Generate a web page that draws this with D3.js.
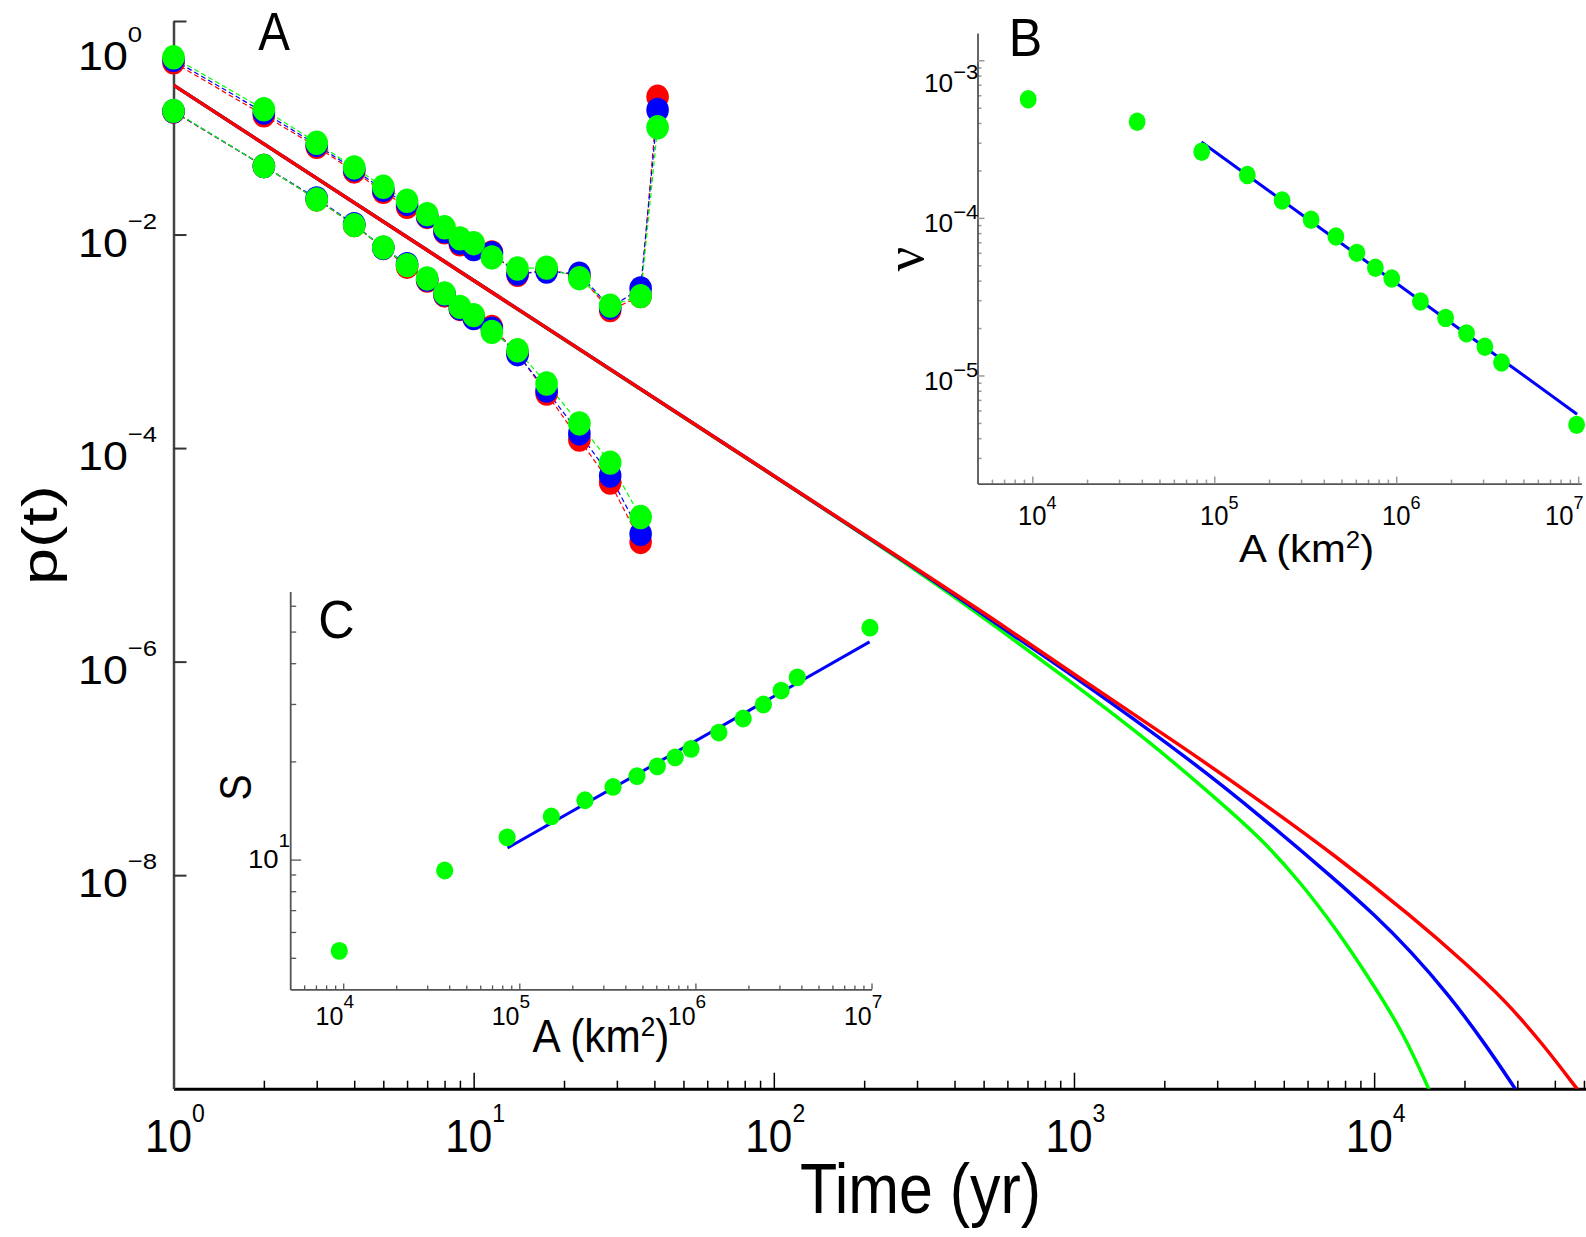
<!DOCTYPE html>
<html>
<head>
<meta charset="utf-8">
<script src="https://cdn.jsdelivr.net/npm/d3@7"></script>
<style>body { margin: 0; background: #fff; }</style>
</head>
<body>
<script>
// ---- panel A data: points (two groups, three runs each) ----
var tYears = [1, 2, 3, 4, 5, 6, 7, 8, 9, 10, 11.5, 14, 17.5, 22.5, 28.5, 36, 41];

var upperRed   = [0.410, 0.131, 0.0664, 0.039, 0.0251, 0.0182, 0.0146, 0.0105, 0.0081, 0.0077, 0.0068, 0.0042, 0.0047, 0.0041, 0.00196, 0.00265, 0.195];
var upperBlue  = [0.433, 0.139, 0.0693, 0.0407, 0.0262, 0.0194, 0.0149, 0.0107, 0.0084, 0.0073, 0.0067, 0.0043, 0.0045, 0.0043, 0.00207, 0.00313, 0.147];
var upperGreen = [0.457, 0.149, 0.0723, 0.0425, 0.028, 0.0207, 0.0155, 0.0117, 0.0092, 0.0083, 0.0061, 0.0048, 0.0049, 0.0039, 0.00216, 0.00265, 0.101];

var lowerRed   = [0.1413, 0.0438, 0.0213, 0.01225, 0.00749, 0.0050, 0.00371, 0.00269, 0.00201, 0.00172, 0.00136, 0.000773, 0.000324, 0.000120, 0.0000475, 0.0000132];
var lowerBlue  = [0.1428, 0.0438, 0.0218, 0.0125, 0.00749, 0.00528, 0.00379, 0.00275, 0.00203, 0.00165, 0.00131, 0.000757, 0.000346, 0.000137, 0.0000552, 0.0000157];
var lowerGreen = [0.144, 0.0438, 0.0213, 0.01225, 0.00757, 0.00517, 0.00388, 0.00281, 0.0021, 0.00176, 0.001225, 0.000824, 0.000402, 0.000170, 0.0000731, 0.0000226];

// ---- panel A data: model curves ----
var redCurveT   = [1, 10, 100, 300, 566, 1005, 2377, 4217, 7482, 13300, 20420, 27230, 36310, 47640];
var redCurveP   = [0.251, 3.72e-3, 5.5e-5, 7.36e-6, 2.29e-6, 7.5e-7, 1.5e-7, 4.84e-8, 1.5e-8, 4.14e-9, 1.45e-9, 6.75e-10, 2.67e-10, 9.8e-11];
var blueCurveT  = [1, 10, 100, 300, 566, 1005, 2377, 4217, 7482, 9977, 13300, 17700, 23600, 29650];
var blueCurveP  = [0.251, 3.72e-3, 5.5e-5, 7.36e-6, 2.15e-6, 7.23e-7, 1.28e-7, 3.51e-8, 8.9e-9, 4.31e-9, 1.92e-9, 7.6e-10, 2.56e-10, 9.8e-11];
var greenCurveT = [1, 10, 100, 300, 566, 1005, 1786, 3170, 4217, 5623, 7482, 9977, 12560, 15240];
var greenCurveP = [0.251, 3.72e-3, 5.5e-5, 7.2e-6, 2.01e-6, 6.1e-7, 1.79e-7, 4.47e-8, 2.17e-8, 8.9e-9, 3.13e-9, 9.3e-10, 3.27e-10, 9.8e-11];

// ---- insets B and C ----
var areas = [9500, 37700, 85300, 152000, 236000, 340600, 466000, 607600, 768000, 945000, 1.359e6, 1.868e6, 2.434e6, 3.07e6, 3.79e6, 9.8e6];
var nuValues = [5.66e-4, 4.07e-4, 2.63e-4, 1.87e-4, 1.29e-4, 9.73e-5, 7.62e-5, 6.0e-5, 4.83e-5, 4.12e-5, 2.95e-5, 2.32e-5, 1.85e-5, 1.52e-5, 1.21e-5, 4.86e-6];
var sValues = [5.25, 9.26, 11.7, 13.56, 15.2, 16.7, 18.03, 19.31, 20.58, 21.85, 24.52, 27.07, 29.88, 32.98, 36.2, 51.4];
var nuFitA = [8.5e4, 9.86e6], nuFit = [3.03e-4, 5.68e-6];
var sFitA = [8.57e4, 9.75e6], sFit = [10.85, 46.5];

// tick labels
var mainXTicks = [1, 10, 100, 1000, 10000];
var mainYTicks = [1, 1e-2, 1e-4, 1e-6, 1e-8];
var insetXTicks = [1e4, 1e5, 1e6, 1e7];
var nuTicks = [1e-3, 1e-4, 1e-5];
var sTicks = [10];

var RED = "#ff0000", BLUE = "#0000ff", GREEN = "#00ff00";
var FONT = "'Liberation Sans', Arial, Helvetica, sans-serif";

var svg = d3.select("body").append("svg")
    .attr("width", 1586)
    .attr("height", 1237);

function logMinors(lo, hi) {
    var out = [];
    for (var e = Math.floor(Math.log10(lo)); e <= Math.ceil(Math.log10(hi)); e++) {
        for (var m = 2; m <= 9; m++) {
            var v = m * Math.pow(10, e);
            if (v > lo * 1.001 && v < hi * 0.999) out.push(v);
        }
    }
    return out;
}

function expText(v) {
    var e = Math.round(Math.log10(v));
    return (e < 0 ? "\u2212" : "") + Math.abs(e);
}

// two passes of the d3 axis: minor ticks then major ticks (pointing inside)
function axisPair(axisFn, scale, translate, majors, minors, majLen, minLen, tickCol, tickW, domCol, domW) {
    var gMin = svg.append("g").attr("transform", translate)
        .call(axisFn(scale).tickValues(minors).tickSize(-minLen).tickSizeOuter(0).tickFormat(""));
    gMin.select(".domain").remove();
    var gMaj = svg.append("g").attr("transform", translate)
        .call(axisFn(scale).tickValues(majors).tickSize(-majLen).tickSizeOuter(0).tickFormat(""));
    gMaj.select(".domain").attr("stroke", domCol).attr("stroke-width", domW);
    [gMin, gMaj].forEach(function (g) {
        g.selectAll(".tick line").attr("stroke", tickCol).attr("stroke-width", tickW);
    });
}

function powLabel(x, y, sup, fs, sfs, rise, sx) {
    var g = svg.append("g").attr("transform", "translate(" + x + "," + y + ") scale(" + sx + ",1)");
    var t = g.append("text").attr("font-family", FONT).attr("font-size", fs).attr("fill", "#000");
    t.append("tspan").text("10");
    t.append("tspan").attr("font-size", sfs).attr("dy", -rise).text(sup);
}

function plainText(x, y, txt, fs, sx, rot, family) {
    var g = svg.append("g").attr("transform", "translate(" + x + "," + y + ")" +
        (rot ? " rotate(" + rot + ")" : "") + " scale(" + sx + ",1)");
    return g.append("text")
        .attr("font-family", family || FONT)
        .attr("font-size", fs)
        .attr("text-anchor", "middle")
        .attr("fill", "#000")
        .text(txt);
}

// "A (km2)" with a real superscript 2
function areaLabel(x, y, fs, sx) {
    var t = plainText(x, y, "", fs, sx);
    t.append("tspan").text("A (km");
    t.append("tspan").attr("font-size", fs * 0.62).attr("dy", -fs * 0.36).text("2");
    t.append("tspan").attr("dy", fs * 0.36).text(")");
}

// ================= main panel A =================
var x = d3.scaleLog().domain([1, 50800]).range([173.5, 1586]);
var y = d3.scaleLog().domain([1e-10, 1]).range([1088.7, 21]);

axisPair(d3.axisBottom, x, "translate(0," + y.range()[0] + ")", mainXTicks, logMinors(1, 50800),
    16, 8, "#000", 1.5, "#000", 3);
axisPair(d3.axisLeft, y, "translate(" + x.range()[0] + ",0)", mainYTicks, [],
    13, 0, "#333", 2, "#444", 2.5);

mainXTicks.forEach(function (t) {
    powLabel(x(t) - 28.5, 1151.6, expText(t), 46, 25, 29.6, 0.92);
});
mainYTicks.forEach(function (t, i) {
    var base = i === 0 ? 70 : y(t) + 22;
    powLabel(78, base, expText(t), 40, 23, 28, 1.12);
});

plainText(920.5, 1213, "Time (yr)", 70, 0.87);
plainText(56.5, 535, "p(t)", 50, 1.33, -90);
plainText(274, 50, "A", 54, 0.88);

svg.append("clipPath").attr("id", "clipA")
    .append("rect").attr("x", 173.5).attr("y", 21)
    .attr("width", 1586 - 173.5).attr("height", 1088.7 - 21);

var curveLine = d3.line()
    .x(function (d) { return x(d[0]); })
    .y(function (d) { return y(d[1]); })
    .curve(d3.curveBasis);

[[greenCurveT, greenCurveP, GREEN], [blueCurveT, blueCurveP, BLUE], [redCurveT, redCurveP, RED]].forEach(function (c) {
    svg.append("path")
        .datum(c[0].map(function (t, i) { return [t, c[1][i]]; }))
        .attr("clip-path", "url(#clipA)")
        .attr("d", curveLine)
        .attr("fill", "none")
        .attr("stroke", c[2])
        .attr("stroke-width", 3.5);
});

var dashLine = d3.line()
    .x(function (d) { return x(d[0]); })
    .y(function (d) { return y(d[1]); });

var runs = [
    [upperRed, RED], [lowerRed, RED],
    [upperBlue, BLUE], [lowerBlue, BLUE],
    [upperGreen, GREEN], [lowerGreen, GREEN]
];

runs.forEach(function (r) {
    var pts = r[0].map(function (v, i) { return [tYears[i], v]; });
    svg.append("path")
        .datum(pts)
        .attr("d", dashLine)
        .attr("fill", "none")
        .attr("stroke", r[1])
        .attr("stroke-width", 1.2)
        .attr("stroke-dasharray", "5,3");
});

runs.forEach(function (r) {
    var pts = r[0].map(function (v, i) { return [tYears[i], v]; });
    svg.append("g").selectAll("ellipse")
        .data(pts)
        .enter().append("ellipse")
        .attr("cx", function (d) { return x(d[0]); })
        .attr("cy", function (d) { return y(d[1]); })
        .attr("rx", 11.3)
        .attr("ry", 12.2)
        .attr("fill", r[1]);
});

// ================= inset B =================
var xB = d3.scaleLog().domain([5000, 1.04e7]).range([977.5, 1581.3]);
var yB = d3.scaleLog().domain([2.06e-6, 1.49e-3]).range([483.6, 33]);

axisPair(d3.axisBottom, xB, "translate(0," + yB.range()[0] + ")", insetXTicks, logMinors(5000, 1.04e7),
    7, 4, "#999", 1.5, "#555", 1.8);
axisPair(d3.axisLeft, yB, "translate(" + xB.range()[0] + ",0)", nuTicks, logMinors(2.06e-6, 1.49e-3),
    7, 4, "#999", 1.5, "#555", 1.8);

insetXTicks.forEach(function (t) {
    // last label is pulled left so it stays inside the figure
    powLabel(Math.min(xB(t) - 14.3, 1545), 525, expText(t), 27, 19, 16, 0.95);
});
nuTicks.forEach(function (t, i) {
    var base = i === 0 ? yB(t) + 32 : yB(t) + 14.4;
    powLabel(924, base, expText(t), 25, 21, 13, 1.05);
});

plainText(1025.5, 56.4, "B", 54, 0.93);
areaLabel(1306.6, 562, 38, 1.1);
plainText(923, 259, "\u03bd", 54, 1, -90, "'Liberation Serif', 'Times New Roman', serif");

svg.append("path")
    .datum([[nuFitA[0], nuFit[0]], [nuFitA[1], nuFit[1]]])
    .attr("d", d3.line().x(function (d) { return xB(d[0]); }).y(function (d) { return yB(d[1]); }))
    .attr("stroke", BLUE)
    .attr("stroke-width", 3)
    .attr("fill", "none");

svg.append("g").selectAll("ellipse")
    .data(areas)
    .enter().append("ellipse")
    .attr("cx", function (d) { return xB(d); })
    .attr("cy", function (d, i) { return yB(nuValues[i]); })
    .attr("rx", 8.4)
    .attr("ry", 9.2)
    .attr("fill", GREEN);

// ================= inset C =================
var xC = d3.scaleLog().domain([5000, 1e7]).range([290.2, 871.5]);
var yC = d3.scaleLog().domain([4, 66.4]).range([989.4, 591.4]);

axisPair(d3.axisBottom, xC, "translate(0," + yC.range()[0] + ")", insetXTicks, logMinors(5000, 1e7),
    6, 4, "#555", 1.3, "#555", 1.8);
axisPair(d3.axisLeft, yC, "translate(" + xC.range()[0] + ",0)", sTicks, logMinors(4, 66.4),
    11, 6, "#555", 1.3, "#555", 1.8);

insetXTicks.forEach(function (t) {
    powLabel(xC(t) - 27.6, 1025.2, expText(t), 25, 19, 17.5, 1);
});
sTicks.forEach(function (t) {
    powLabel(248, yC(t) + 8, expText(t), 25, 19, 21, 1.1);
});

plainText(336.5, 638, "C", 53, 0.95);
areaLabel(601, 1052.4, 46, 0.92);
plainText(251, 787.5, "S", 45, 0.87, -90);

svg.append("path")
    .datum([[sFitA[0], sFit[0]], [sFitA[1], sFit[1]]])
    .attr("d", d3.line().x(function (d) { return xC(d[0]); }).y(function (d) { return yC(d[1]); }))
    .attr("stroke", BLUE)
    .attr("stroke-width", 3)
    .attr("fill", "none");

svg.append("g").selectAll("ellipse")
    .data(areas)
    .enter().append("ellipse")
    .attr("cx", function (d) { return xC(d); })
    .attr("cy", function (d, i) { return yC(sValues[i]); })
    .attr("rx", 8.6)
    .attr("ry", 8.9)
    .attr("fill", GREEN);
</script>
</body>
</html>
